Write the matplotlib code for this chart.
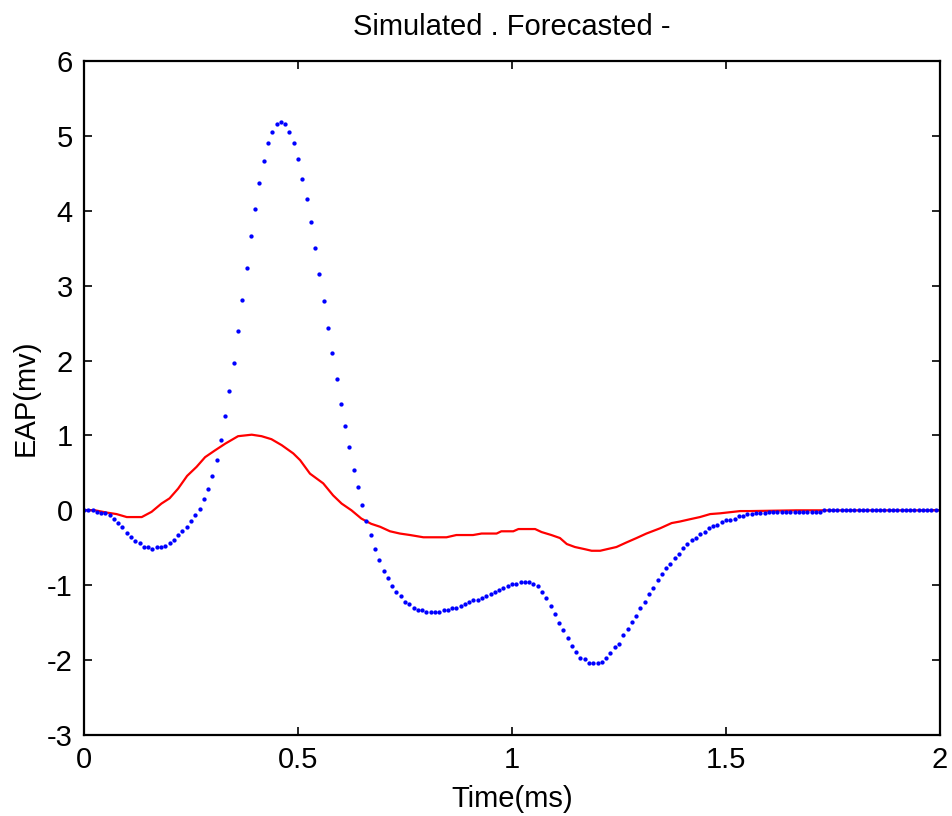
import numpy as np
import matplotlib
matplotlib.use("Agg")
import matplotlib.pyplot as plt

# simulated EAP, sampled every 0.01 ms (blue dots)
sim_t = np.arange(201) * 0.01
sim_v = [
    0, 0, 0, -0.02, -0.04, -0.04, -0.06, -0.12, -0.17, -0.22,
    -0.30, -0.36, -0.41, -0.44, -0.49, -0.49, -0.51, -0.49, -0.49, -0.47,
    -0.44, -0.39, -0.33, -0.28, -0.22, -0.14, -0.06, 0.02, 0.15, 0.28,
    0.46, 0.67, 0.94, 1.26, 1.60, 1.97, 2.39, 2.81, 3.23, 3.66,
    4.03, 4.37, 4.66, 4.90, 5.05, 5.16, 5.19, 5.16, 5.05, 4.90,
    4.69, 4.42, 4.16, 3.85, 3.50, 3.15, 2.79, 2.44, 2.10, 1.76,
    1.42, 1.13, 0.84, 0.54, 0.31, 0.07, -0.14, -0.33, -0.51, -0.67,
    -0.81, -0.91, -1.01, -1.09, -1.14, -1.22, -1.25, -1.30, -1.33, -1.33,
    -1.36, -1.36, -1.36, -1.36, -1.33, -1.33, -1.30, -1.30, -1.28, -1.25,
    -1.22, -1.20, -1.20, -1.17, -1.14, -1.12, -1.09, -1.06, -1.04, -1.01,
    -0.98, -0.98, -0.96, -0.96, -0.96, -0.98, -1.01, -1.09, -1.17, -1.28,
    -1.39, -1.50, -1.60, -1.71, -1.81, -1.89, -1.97, -1.99, -2.04, -2.04,
    -2.04, -2.02, -1.97, -1.91, -1.83, -1.78, -1.67, -1.59, -1.49, -1.41,
    -1.30, -1.22, -1.12, -1.04, -0.93, -0.85, -0.77, -0.72, -0.64, -0.58,
    -0.50, -0.45, -0.40, -0.37, -0.32, -0.29, -0.24, -0.21, -0.19, -0.16,
    -0.13, -0.13, -0.11, -0.08, -0.08, -0.05, -0.05, -0.04, -0.04, -0.04,
    -0.02, -0.02, -0.02, -0.02, -0.02, -0.02, -0.02, -0.02, -0.02, -0.02,
    -0.02, -0.02, -0.02, 0, 0, 0, 0, 0, 0, 0,
    0, 0, 0, 0, 0, 0, 0, 0, 0, 0,
    0, 0, 0, 0, 0, 0, 0, 0, 0, 0,
    0,
]

# forecasted EAP (red line)
fc_t = [0, 0.026, 0.053, 0.076, 0.10, 0.135, 0.158, 0.181, 0.20, 0.22,
        0.241, 0.263, 0.283, 0.306, 0.33, 0.36, 0.392, 0.415, 0.438, 0.462,
        0.489, 0.505, 0.528, 0.559, 0.582, 0.602, 0.625, 0.648, 0.671, 0.692,
        0.715, 0.738, 0.762, 0.793, 0.847, 0.870, 0.909, 0.929, 0.964, 0.975,
        1.003, 1.015, 1.054, 1.069, 1.092, 1.112, 1.128, 1.147, 1.171, 1.186,
        1.206, 1.221, 1.244, 1.267, 1.291, 1.314, 1.346, 1.373, 1.392, 1.415,
        1.439, 1.463, 1.486, 1.533, 1.556, 1.665, 2.0]
fc_v = [0, 0, -0.03, -0.05, -0.09, -0.09, -0.02, 0.09, 0.16, 0.29,
        0.46, 0.58, 0.71, 0.80, 0.89, 0.99, 1.01, 0.99, 0.95, 0.87,
        0.76, 0.67, 0.49, 0.36, 0.20, 0.09, 0.00, -0.11, -0.18, -0.22,
        -0.28, -0.31, -0.33, -0.36, -0.36, -0.33, -0.33, -0.31, -0.31, -0.28,
        -0.28, -0.25, -0.25, -0.29, -0.33, -0.37, -0.45, -0.49, -0.52, -0.54,
        -0.54, -0.52, -0.49, -0.43, -0.37, -0.31, -0.24, -0.17, -0.15, -0.12,
        -0.09, -0.05, -0.04, -0.01, -0.01, 0, 0]

x_ticks = [0, 0.5, 1, 1.5, 2]
x_labels = ["0", "0.5", "1", "1.5", "2"]
y_ticks = [-3, -2, -1, 0, 1, 2, 3, 4, 5, 6]

plt.rcParams["font.family"] = ["Liberation Sans", "DejaVu Sans"]
plt.rcParams["font.size"] = 21
plt.rcParams["axes.unicode_minus"] = False

fig = plt.figure(figsize=(9.53, 8.16), dpi=100)
ax = fig.add_axes([0.0881, 0.0993, 0.8983, 0.8259])

ax.plot(fc_t, fc_v, color="red", linewidth=1.6)
ax.plot(sim_t, sim_v, linestyle="none", marker="o", markersize=3.1,
        markerfacecolor="blue", markeredgewidth=0, color="blue")

ax.set_xlim(0, 2)
ax.set_ylim(-3, 6)
ax.set_xticks(x_ticks)
ax.set_xticklabels(x_labels)
ax.set_yticks(y_ticks)
ax.tick_params(direction="in", length=6, width=1.2, top=True, right=True,
               labelsize=21, pad=8)
for s in ax.spines.values():
    s.set_linewidth(1.6)

ax.set_xlabel("Time(ms)", fontsize=21, labelpad=8)
ax.set_ylabel("EAP(mv)", fontsize=21, labelpad=5)
ax.set_title("Simulated . Forecasted -", fontsize=21, pad=19)

fig.savefig("out.png", dpi=100)
